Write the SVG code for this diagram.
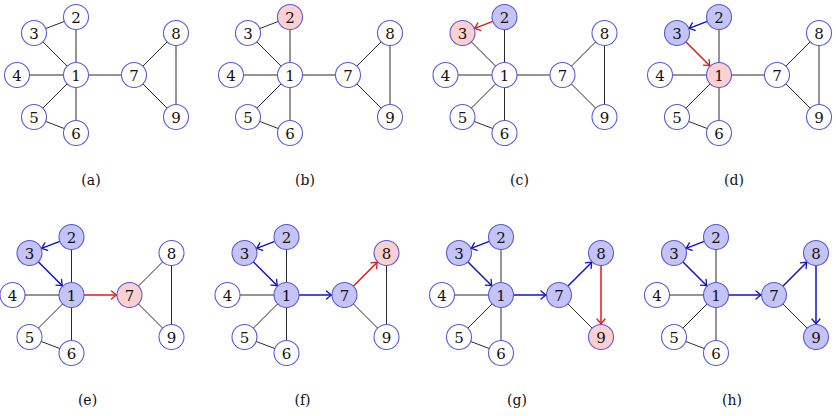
<svg xmlns="http://www.w3.org/2000/svg" width="836" height="416" viewBox="0 0 836 416">
<style>
circle{stroke:#5a5ad8;stroke-width:1.1;fill:#fff}
circle.v{fill:#c4c4f7}
circle.c{fill:#fcd0d0}
text{font-family:"DejaVu Serif","Liberation Serif",serif;font-size:15px;text-anchor:middle;fill:#111}
text.cap{font-size:14px}
.e line{stroke:#2a2a2a;stroke-width:1}
.ab{stroke:#1010c8;stroke-width:1.5;fill:none;marker-end:url(#mb)}
.ar{stroke:#e01818;stroke-width:1.5;fill:none;marker-end:url(#mr)}
</style>
<defs>
<marker id="mb" markerUnits="userSpaceOnUse" viewBox="-7 -6 9 12" markerWidth="9" markerHeight="12" refX="0" refY="0" orient="auto">
<path d="M-5,-4 Q-1.5,-1 0,0 Q-1.5,1 -5,4" fill="none" stroke="#1010c8" stroke-width="1.3" stroke-linecap="round"/>
</marker>
<marker id="mr" markerUnits="userSpaceOnUse" viewBox="-7 -6 9 12" markerWidth="9" markerHeight="12" refX="0" refY="0" orient="auto">
<path d="M-5,-4 Q-1.5,-1 0,0 Q-1.5,1 -5,4" fill="none" stroke="#e01818" stroke-width="1.3" stroke-linecap="round"/>
</marker>
</defs>
<rect width="836" height="416" fill="#fff"/>

<!-- panel a -->
<g id="pa" transform="translate(76,75)">
<g id="a-edges" class="e">
<line x1="0" y1="0" x2="0" y2="-58"/><line x1="0" y1="0" x2="-42" y2="-42"/><line x1="0" y1="-58" x2="-42" y2="-42"/>
<line x1="0" y1="0" x2="-59" y2="0"/><line x1="0" y1="0" x2="-42" y2="42"/><line x1="0" y1="0" x2="0" y2="58"/>
<line x1="-42" y1="42" x2="0" y2="58"/><line x1="0" y1="0" x2="58" y2="0"/><line x1="58" y1="0" x2="100" y2="-42"/>
<line x1="58" y1="0" x2="100" y2="42"/><line x1="100" y1="-42" x2="100" y2="42"/>
</g>
<g id="a1"><circle cx="0" cy="0" r="12.5"/><text x="0" y="5.5">1</text></g>
<g id="a2"><circle cx="0" cy="-58" r="12.5"/><text x="0" y="-52.5">2</text></g>
<g id="a3"><circle cx="-42" cy="-42" r="12.5"/><text x="-42" y="-36.5">3</text></g>
<g id="a4"><circle cx="-59" cy="0" r="12.5"/><text x="-59" y="5.5">4</text></g>
<g id="a5"><circle cx="-42" cy="42" r="12.5"/><text x="-42" y="47.5">5</text></g>
<g id="a6"><circle cx="0" cy="58" r="12.5"/><text x="0" y="63.5">6</text></g>
<g id="a7"><circle cx="58" cy="0" r="12.5"/><text x="58" y="5.5">7</text></g>
<g id="a8"><circle cx="100" cy="-42" r="12.5"/><text x="100" y="-36.5">8</text></g>
<g id="a9"><circle cx="100" cy="42" r="12.5"/><text x="100" y="47.5">9</text></g>
<text class="cap" x="15" y="110">(a)</text>
</g>

<!-- panel b -->
<g id="pb" transform="translate(290,75)">
<g id="b-edges" class="e">
<line x1="0" y1="0" x2="0" y2="-58"/><line x1="0" y1="0" x2="-42" y2="-42"/><line x1="0" y1="-58" x2="-42" y2="-42"/>
<line x1="0" y1="0" x2="-59" y2="0"/><line x1="0" y1="0" x2="-42" y2="42"/><line x1="0" y1="0" x2="0" y2="58"/>
<line x1="-42" y1="42" x2="0" y2="58"/><line x1="0" y1="0" x2="58" y2="0"/><line x1="58" y1="0" x2="100" y2="-42"/>
<line x1="58" y1="0" x2="100" y2="42"/><line x1="100" y1="-42" x2="100" y2="42"/>
</g>
<g id="b1"><circle cx="0" cy="0" r="12.5"/><text x="0" y="5.5">1</text></g>
<g id="b2"><circle class="c" cx="0" cy="-58" r="12.5"/><text x="0" y="-52.5">2</text></g>
<g id="b3"><circle cx="-42" cy="-42" r="12.5"/><text x="-42" y="-36.5">3</text></g>
<g id="b4"><circle cx="-59" cy="0" r="12.5"/><text x="-59" y="5.5">4</text></g>
<g id="b5"><circle cx="-42" cy="42" r="12.5"/><text x="-42" y="47.5">5</text></g>
<g id="b6"><circle cx="0" cy="58" r="12.5"/><text x="0" y="63.5">6</text></g>
<g id="b7"><circle cx="58" cy="0" r="12.5"/><text x="58" y="5.5">7</text></g>
<g id="b8"><circle cx="100" cy="-42" r="12.5"/><text x="100" y="-36.5">8</text></g>
<g id="b9"><circle cx="100" cy="42" r="12.5"/><text x="100" y="47.5">9</text></g>
<text class="cap" x="15" y="110">(b)</text>
</g>

<!-- panel c -->
<g id="pc" transform="translate(504.5,75)">
<g id="c-edges" class="e">
<line x1="0" y1="0" x2="0" y2="-58"/><line x1="0" y1="0" x2="-42" y2="-42"/>
<line x1="0" y1="0" x2="-59" y2="0"/><line x1="0" y1="0" x2="-42" y2="42"/><line x1="0" y1="0" x2="0" y2="58"/>
<line x1="-42" y1="42" x2="0" y2="58"/><line x1="0" y1="0" x2="58" y2="0"/><line x1="58" y1="0" x2="100" y2="-42"/>
<line x1="58" y1="0" x2="100" y2="42"/><line x1="100" y1="-42" x2="100" y2="42"/>
<path class="ar" d="M-11.7,-53.6 L-29.9,-46.6"/>
</g>
<g id="c1"><circle cx="0" cy="0" r="12.5"/><text x="0" y="5.5">1</text></g>
<g id="c2"><circle class="v" cx="0" cy="-58" r="12.5"/><text x="0" y="-52.5">2</text></g>
<g id="c3"><circle class="c" cx="-42" cy="-42" r="12.5"/><text x="-42" y="-36.5">3</text></g>
<g id="c4"><circle cx="-59" cy="0" r="12.5"/><text x="-59" y="5.5">4</text></g>
<g id="c5"><circle cx="-42" cy="42" r="12.5"/><text x="-42" y="47.5">5</text></g>
<g id="c6"><circle cx="0" cy="58" r="12.5"/><text x="0" y="63.5">6</text></g>
<g id="c7"><circle cx="58" cy="0" r="12.5"/><text x="58" y="5.5">7</text></g>
<g id="c8"><circle cx="100" cy="-42" r="12.5"/><text x="100" y="-36.5">8</text></g>
<g id="c9"><circle cx="100" cy="42" r="12.5"/><text x="100" y="47.5">9</text></g>
<text class="cap" x="15" y="110">(c)</text>
</g>

<!-- panel d -->
<g id="pd" transform="translate(719,75)">
<g id="d-edges" class="e">
<line x1="0" y1="0" x2="0" y2="-58"/>
<line x1="0" y1="0" x2="-59" y2="0"/><line x1="0" y1="0" x2="-42" y2="42"/><line x1="0" y1="0" x2="0" y2="58"/>
<line x1="-42" y1="42" x2="0" y2="58"/><line x1="0" y1="0" x2="58" y2="0"/><line x1="58" y1="0" x2="100" y2="-42"/>
<line x1="58" y1="0" x2="100" y2="42"/><line x1="100" y1="-42" x2="100" y2="42"/>
<path class="ab" d="M-11.7,-53.6 L-29.9,-46.6"/>
<path class="ar" d="M-33.2,-33.2 L-9.2,-9.2"/>
</g>
<g id="d1"><circle class="c" cx="0" cy="0" r="12.5"/><text x="0" y="5.5">1</text></g>
<g id="d2"><circle class="v" cx="0" cy="-58" r="12.5"/><text x="0" y="-52.5">2</text></g>
<g id="d3"><circle class="v" cx="-42" cy="-42" r="12.5"/><text x="-42" y="-36.5">3</text></g>
<g id="d4"><circle cx="-59" cy="0" r="12.5"/><text x="-59" y="5.5">4</text></g>
<g id="d5"><circle cx="-42" cy="42" r="12.5"/><text x="-42" y="47.5">5</text></g>
<g id="d6"><circle cx="0" cy="58" r="12.5"/><text x="0" y="63.5">6</text></g>
<g id="d7"><circle cx="58" cy="0" r="12.5"/><text x="58" y="5.5">7</text></g>
<g id="d8"><circle cx="100" cy="-42" r="12.5"/><text x="100" y="-36.5">8</text></g>
<g id="d9"><circle cx="100" cy="42" r="12.5"/><text x="100" y="47.5">9</text></g>
<text class="cap" x="15" y="110">(d)</text>
</g>

<!-- panel e -->
<g id="pe" transform="translate(71.5,295)">
<g id="e-edges" class="e">
<line x1="0" y1="0" x2="0" y2="-58"/>
<line x1="0" y1="0" x2="-59" y2="0"/><line x1="0" y1="0" x2="-42" y2="42"/><line x1="0" y1="0" x2="0" y2="58"/>
<line x1="-42" y1="42" x2="0" y2="58"/><line x1="58" y1="0" x2="100" y2="-42"/>
<line x1="58" y1="0" x2="100" y2="42"/><line x1="100" y1="-42" x2="100" y2="42"/>
<path class="ab" d="M-11.7,-53.6 L-29.9,-46.6"/>
<path class="ab" d="M-33.2,-33.2 L-9.2,-9.2"/>
<path class="ar" d="M12.5,0 L45,0"/>
</g>
<g id="e1"><circle class="v" cx="0" cy="0" r="12.5"/><text x="0" y="5.5">1</text></g>
<g id="e2"><circle class="v" cx="0" cy="-58" r="12.5"/><text x="0" y="-52.5">2</text></g>
<g id="e3"><circle class="v" cx="-42" cy="-42" r="12.5"/><text x="-42" y="-36.5">3</text></g>
<g id="e4"><circle cx="-59" cy="0" r="12.5"/><text x="-59" y="5.5">4</text></g>
<g id="e5"><circle cx="-42" cy="42" r="12.5"/><text x="-42" y="47.5">5</text></g>
<g id="e6"><circle cx="0" cy="58" r="12.5"/><text x="0" y="63.5">6</text></g>
<g id="e7"><circle class="c" cx="58" cy="0" r="12.5"/><text x="58" y="5.5">7</text></g>
<g id="e8"><circle cx="100" cy="-42" r="12.5"/><text x="100" y="-36.5">8</text></g>
<g id="e9"><circle cx="100" cy="42" r="12.5"/><text x="100" y="47.5">9</text></g>
<text class="cap" x="16" y="110">(e)</text>
</g>

<!-- panel f -->
<g id="pf" transform="translate(286.5,295)">
<g id="f-edges" class="e">
<line x1="0" y1="0" x2="0" y2="-58"/>
<line x1="0" y1="0" x2="-59" y2="0"/><line x1="0" y1="0" x2="-42" y2="42"/><line x1="0" y1="0" x2="0" y2="58"/>
<line x1="-42" y1="42" x2="0" y2="58"/>
<line x1="58" y1="0" x2="100" y2="42"/><line x1="100" y1="-42" x2="100" y2="42"/>
<path class="ab" d="M-11.7,-53.6 L-29.9,-46.6"/>
<path class="ab" d="M-33.2,-33.2 L-9.2,-9.2"/>
<path class="ab" d="M12.5,0 L45,0"/>
<path class="ar" d="M66.8,-8.8 L90.8,-32.8"/>
</g>
<g id="f1"><circle class="v" cx="0" cy="0" r="12.5"/><text x="0" y="5.5">1</text></g>
<g id="f2"><circle class="v" cx="0" cy="-58" r="12.5"/><text x="0" y="-52.5">2</text></g>
<g id="f3"><circle class="v" cx="-42" cy="-42" r="12.5"/><text x="-42" y="-36.5">3</text></g>
<g id="f4"><circle cx="-59" cy="0" r="12.5"/><text x="-59" y="5.5">4</text></g>
<g id="f5"><circle cx="-42" cy="42" r="12.5"/><text x="-42" y="47.5">5</text></g>
<g id="f6"><circle cx="0" cy="58" r="12.5"/><text x="0" y="63.5">6</text></g>
<g id="f7"><circle class="v" cx="58" cy="0" r="12.5"/><text x="58" y="5.5">7</text></g>
<g id="f8"><circle class="c" cx="100" cy="-42" r="12.5"/><text x="100" y="-36.5">8</text></g>
<g id="f9"><circle cx="100" cy="42" r="12.5"/><text x="100" y="47.5">9</text></g>
<text class="cap" x="16" y="110">(f)</text>
</g>

<!-- panel g -->
<g id="pg" transform="translate(501,295)">
<g id="g-edges" class="e">
<line x1="0" y1="0" x2="0" y2="-58"/>
<line x1="0" y1="0" x2="-59" y2="0"/><line x1="0" y1="0" x2="-42" y2="42"/><line x1="0" y1="0" x2="0" y2="58"/>
<line x1="-42" y1="42" x2="0" y2="58"/>
<line x1="58" y1="0" x2="100" y2="42"/>
<path class="ab" d="M-11.7,-53.6 L-29.9,-46.6"/>
<path class="ab" d="M-33.2,-33.2 L-9.2,-9.2"/>
<path class="ab" d="M12.5,0 L45,0"/>
<path class="ab" d="M66.8,-8.8 L90.8,-32.8"/>
<path class="ar" d="M100,-29.5 L100,29"/>
</g>
<g id="g1"><circle class="v" cx="0" cy="0" r="12.5"/><text x="0" y="5.5">1</text></g>
<g id="g2"><circle class="v" cx="0" cy="-58" r="12.5"/><text x="0" y="-52.5">2</text></g>
<g id="g3"><circle class="v" cx="-42" cy="-42" r="12.5"/><text x="-42" y="-36.5">3</text></g>
<g id="g4"><circle cx="-59" cy="0" r="12.5"/><text x="-59" y="5.5">4</text></g>
<g id="g5"><circle cx="-42" cy="42" r="12.5"/><text x="-42" y="47.5">5</text></g>
<g id="g6"><circle cx="0" cy="58" r="12.5"/><text x="0" y="63.5">6</text></g>
<g id="g7"><circle class="v" cx="58" cy="0" r="12.5"/><text x="58" y="5.5">7</text></g>
<g id="g8"><circle class="v" cx="100" cy="-42" r="12.5"/><text x="100" y="-36.5">8</text></g>
<g id="g9"><circle class="c" cx="100" cy="42" r="12.5"/><text x="100" y="47.5">9</text></g>
<text class="cap" x="16" y="110">(g)</text>
</g>

<!-- panel h -->
<g id="ph" transform="translate(716,295)">
<g id="h-edges" class="e">
<line x1="0" y1="0" x2="0" y2="-58"/>
<line x1="0" y1="0" x2="-59" y2="0"/><line x1="0" y1="0" x2="-42" y2="42"/><line x1="0" y1="0" x2="0" y2="58"/>
<line x1="-42" y1="42" x2="0" y2="58"/>
<line x1="58" y1="0" x2="100" y2="42"/>
<path class="ab" d="M-11.7,-53.6 L-29.9,-46.6"/>
<path class="ab" d="M-33.2,-33.2 L-9.2,-9.2"/>
<path class="ab" d="M12.5,0 L45,0"/>
<path class="ab" d="M66.8,-8.8 L90.8,-32.8"/>
<path class="ab" d="M100,-29.5 L100,29"/>
</g>
<g id="h1"><circle class="v" cx="0" cy="0" r="12.5"/><text x="0" y="5.5">1</text></g>
<g id="h2"><circle class="v" cx="0" cy="-58" r="12.5"/><text x="0" y="-52.5">2</text></g>
<g id="h3"><circle class="v" cx="-42" cy="-42" r="12.5"/><text x="-42" y="-36.5">3</text></g>
<g id="h4"><circle cx="-59" cy="0" r="12.5"/><text x="-59" y="5.5">4</text></g>
<g id="h5"><circle cx="-42" cy="42" r="12.5"/><text x="-42" y="47.5">5</text></g>
<g id="h6"><circle cx="0" cy="58" r="12.5"/><text x="0" y="63.5">6</text></g>
<g id="h7"><circle class="v" cx="58" cy="0" r="12.5"/><text x="58" y="5.5">7</text></g>
<g id="h8"><circle class="v" cx="100" cy="-42" r="12.5"/><text x="100" y="-36.5">8</text></g>
<g id="h9"><circle class="v" cx="100" cy="42" r="12.5"/><text x="100" y="47.5">9</text></g>
<text class="cap" x="16" y="110">(h)</text>
</g>
</svg>
